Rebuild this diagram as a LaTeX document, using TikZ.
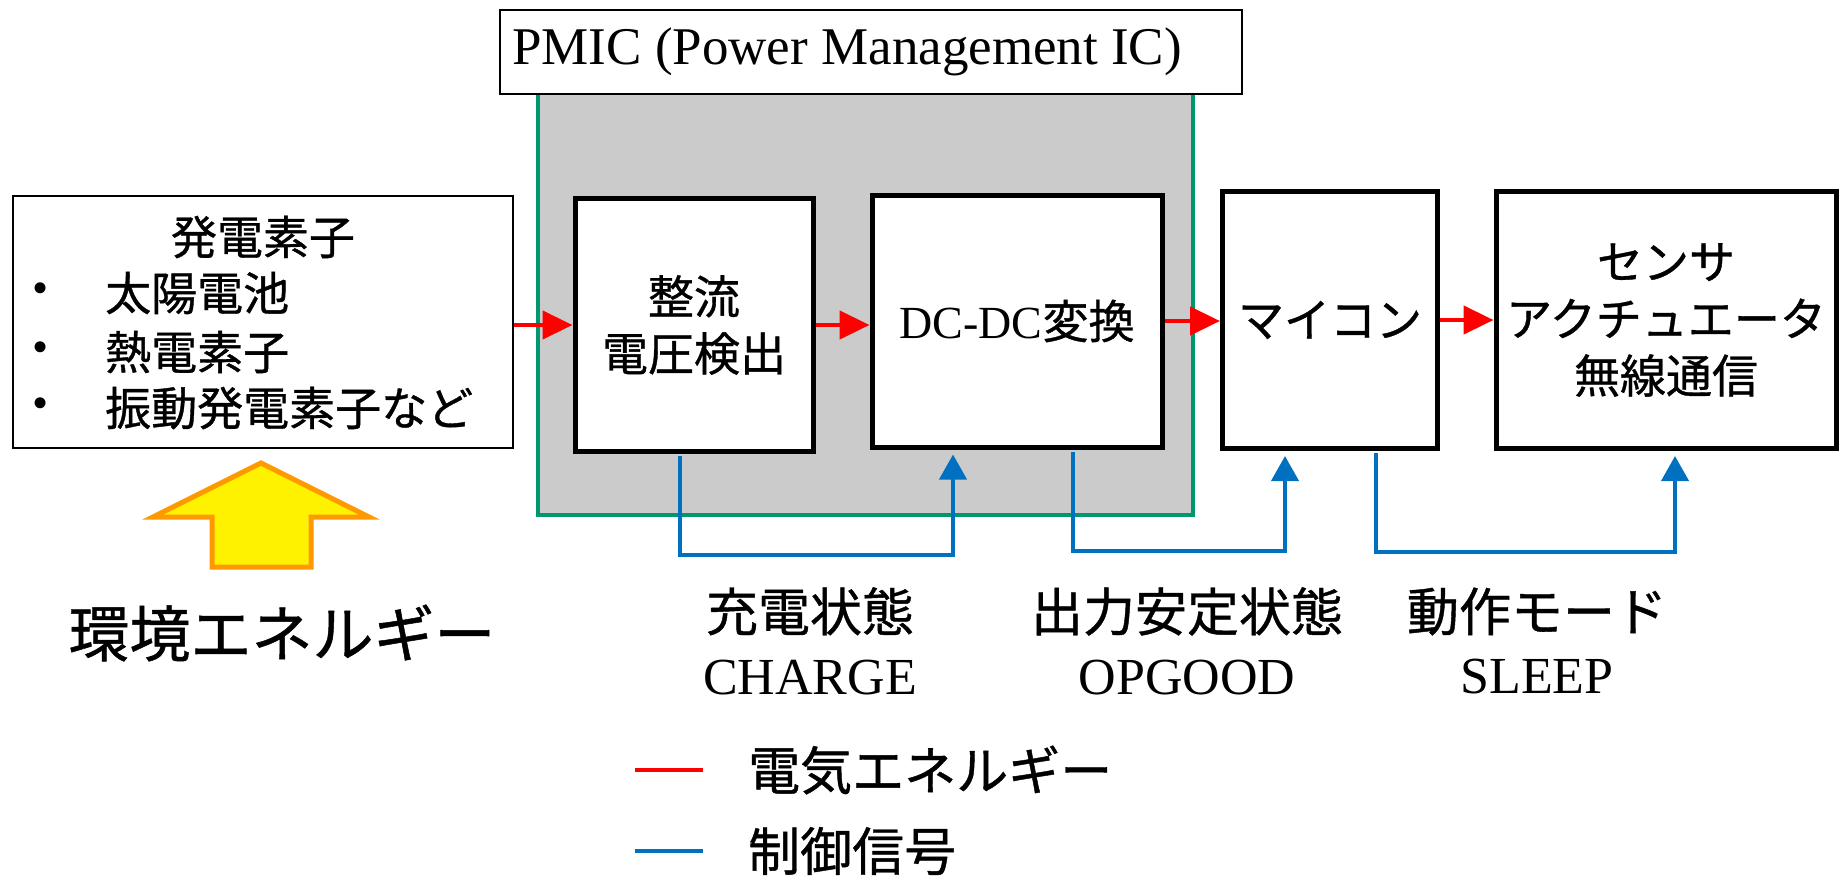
\documentclass[tikz,border=0pt]{standalone}
\usepackage{fontspec}
\setmainfont{Liberation Serif}
\newfontfamily\jpfont[FakeBold=0.8]{Noto Sans CJK JP}
\usepackage{tikz}
\usetikzlibrary{arrows.meta}
\definecolor{pmicgreen}{RGB}{0,150,110}
\definecolor{pmicgrey}{RGB}{203,203,203}
\definecolor{ctrlblue}{RGB}{0,112,192}
\definecolor{sunorange}{RGB}{255,153,0}

\begin{document}
\begin{tikzpicture}[x=1pt,y=-1pt,
	blk/.style={draw=black,line width=5pt,fill=white,inner sep=0pt,align=center,font=\jpfont\fontsize{46}{57}\selectfont},
	thinbox/.style={draw=black,line width=2pt,fill=white,inner sep=0pt},
	txt/.style={inner sep=0pt,font=\jpfont\fontsize{46}{57}\selectfont},
	pwr/.style={red,line width=4.5pt,-{Triangle[length=30pt,width=28pt]}},
	ctrl/.style={ctrlblue,line width=4pt,-{Triangle[length=25pt,width=27pt]},shorten >=5pt,shorten <=2pt},
	lbl/.style={inner sep=0pt,align=center,font=\fontsize{52}{63}\selectfont}]
	\useasboundingbox (0,0) rectangle (1841,878);
	\fill[pmicgrey] (538,94) rectangle (1193,515);
	\draw[pmicgreen,line width=4.5pt] (538,94) |- (1193,515) -- (1193,94);
	\node[thinbox,minimum width=742pt,minimum height=84pt] (pmic) at (871,52) {};
	\node[anchor=west,inner sep=0pt,font=\fontsize{53}{60}\selectfont] (pmictitle) at (512,52) {PMIC (Power Management IC)};
	\node[thinbox,minimum width=500pt,minimum height=252pt] (src) at (263,322) {};
	\node[txt] (srchead) at (263,237) {発電素子};
	\node[inner sep=0pt,font=\fontsize{46}{57}\selectfont] (dot1) at (41,293) {\textbullet};
	\node[inner sep=0pt,font=\fontsize{46}{57}\selectfont] (dot2) at (41,352) {\textbullet};
	\node[inner sep=0pt,font=\fontsize{46}{57}\selectfont] (dot3) at (41,408) {\textbullet};
	\node[txt,anchor=west] (solar) at (105,293) {太陽電池};
	\node[txt,anchor=west] (thermo) at (105,352) {熱電素子};
	\node[txt,anchor=west] (vib) at (105,408) {振動発電素子など};
	\node[blk,minimum width=238pt,minimum height=253pt] (rect) at (694,325) {整流\\電圧検出};
	\node[blk,minimum width=290pt,minimum height=252pt] (dcdc) at (1017,321) {{\rmfamily DC-DC}変換};
	\node[blk,minimum width=215pt,minimum height=257pt] (mcu) at (1330,320) {マイコン};
	\node[blk,minimum width=340pt,minimum height=257pt] (load) at (1666,320) {センサ\\アクチュエータ\\無線通信};
	\draw[pwr] (src.east |- rect.west) -- (rect.west);
	\draw[pwr] (rect.east) -- (rect.east -| dcdc.west);
	\draw[pwr] (dcdc.east) -- (dcdc.east -| mcu.west);
	\draw[pwr] (mcu.east) -- (load.west);
	\draw[ctrl] ([xshift=-14]rect.south) -- ++(0,101) -| ([xshift=-64]dcdc.south);
	\draw[ctrl] ([xshift=56]dcdc.south) -- ++(0,101) -| ([xshift=-45]mcu.south);
	\draw[ctrl] ([xshift=46]mcu.south) -- ++(0,101) -| ([xshift=9]load.south);
	\node[lbl] (chg) at (810,641) {{\jpfont 充電状態}\\CHARGE};
	\node[lbl] (opg) at (1187,641) {{\jpfont 出力安定状態}\\OPGOOD};
	\node[lbl] (slp) at (1537,641) {{\jpfont 動作モード}\\SLEEP};
	\draw[sunorange,line width=5pt,fill=yellow] (261,463) -- (369,517) -- (311,517) -- (311,567) -- (212,567) -- (212,517) -- (153,517) -- cycle;
	\node[inner sep=0pt,font=\jpfont\fontsize{61}{70}\selectfont] (env) at (282,633) {環境エネルギー};
	\node[txt,anchor=west,font=\jpfont\fontsize{52}{60}\selectfont] (legpwr) at (748,770) {電気エネルギー};
	\node[txt,anchor=west,font=\jpfont\fontsize{52}{60}\selectfont] (legctrl) at (748,851) {制御信号};
	\draw[red,line width=4.5pt] ([xshift=-113]legpwr.west) -- ([xshift=-45]legpwr.west);
	\draw[ctrlblue,line width=4.5pt] ([xshift=-113]legctrl.west) -- ([xshift=-45]legctrl.west);
\end{tikzpicture}
\end{document}
